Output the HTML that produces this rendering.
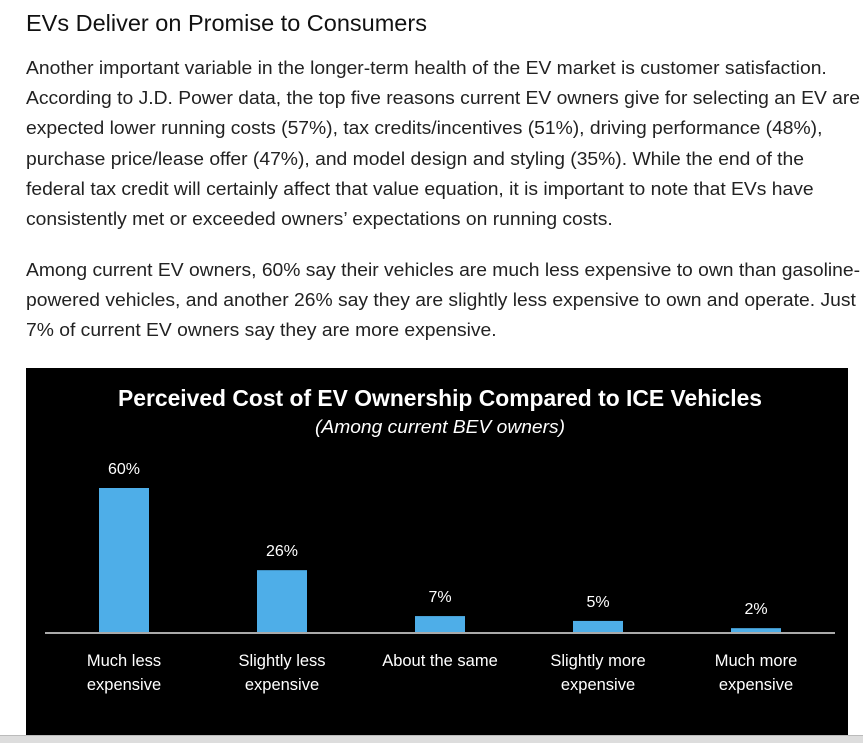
<!DOCTYPE html>
<html><head><meta charset="utf-8"><style>
body{margin:0;width:863px;height:742px;background:#fff;overflow:hidden;font-family:"Liberation Sans",sans-serif;color:#222;position:relative}
h2{position:absolute;left:26px;top:10px;margin:0;font-weight:normal;font-size:23.5px;color:#111;white-space:nowrap}
p{position:absolute;left:26px;margin:0;font-size:18.3px;line-height:30.2px;width:800px;transform:scaleX(1.055);transform-origin:0 0}
p span{display:block;white-space:nowrap}
#chart{position:absolute;left:26px;top:368px;width:822px;height:367px;background:#000}
#bottom{position:absolute;left:0;top:735px;width:863px;height:7px;background:#ddd;border-top:1px solid #bbb}
</style></head><body>
<h2>EVs Deliver on Promise to Consumers</h2>
<p style="top:53px"><span>Another important variable in the longer-term health of the EV market is customer satisfaction.</span><span>According to J.D. Power data, the top five reasons current EV owners give for selecting an EV are</span><span>expected lower running costs (57%), tax credits/incentives (51%), driving performance (48%),</span><span>purchase price/lease offer (47%), and model design and styling (35%). While the end of the</span><span>federal tax credit will certainly affect that value equation, it is important to note that EVs have</span><span>consistently met or exceeded owners’ expectations on running costs.</span></p>
<p style="top:255px"><span>Among current EV owners, 60% say their vehicles are much less expensive to own than gasoline-</span><span>powered vehicles, and another 26% say they are slightly less expensive to own and operate. Just</span><span>7% of current EV owners say they are more expensive.</span></p>
<svg id="chart" width="822" height="367" viewBox="0 0 822 367">
<text x="414" y="38" fill="#fff" font-size="23" font-weight="bold" text-anchor="middle" font-family="Liberation Sans,sans-serif" textLength="644" lengthAdjust="spacingAndGlyphs">Perceived Cost of EV Ownership Compared to ICE Vehicles</text>
<text x="414" y="65" fill="#fff" font-size="18" font-style="italic" text-anchor="middle" font-family="Liberation Sans,sans-serif" textLength="250" lengthAdjust="spacingAndGlyphs">(Among current BEV owners)</text>
<g id="bars"></g>
<line x1="19" x2="809" y1="265" y2="265" stroke="#aaa" stroke-width="2"/>
</svg>
<div id="bottom"></div>
<script>
const categories1=["Much less","Slightly less","About the same","Slightly more","Much more"];
const categories2=["expensive","expensive","","expensive","expensive"];
const values=[60,26,7,5,2];
const valueLabels=["60%","26%","7%","5%","2%"];
const ns="http://www.w3.org/2000/svg";
const g=document.getElementById('bars');
const baseY=265,scale=145/60;
const xPos=i=>98+i*158;
const yPos=v=>baseY-v*scale;
function t(x,y,s,size){const e=document.createElementNS(ns,'text');e.setAttribute('x',x);e.setAttribute('y',y);e.setAttribute('fill','#fff');e.setAttribute('font-size',size);e.setAttribute('text-anchor','middle');e.setAttribute('font-family','Liberation Sans,sans-serif');e.textContent=s;g.appendChild(e);return e;}
values.forEach((v,i)=>{
 const r=document.createElementNS(ns,'rect');
 
 
 r.setAttribute('x',xPos(i)-25);r.setAttribute('y',yPos(v));r.setAttribute('width',50);r.setAttribute('height',baseY-yPos(v));r.setAttribute('fill','#4eaee8');
 g.appendChild(r);
 const l=t(xPos(i),yPos(v)-14,valueLabels[i],16);
 
 
 const c1=t(xPos(i),298,categories1[i],16.5);
 
 
 if(categories2[i]){const c2=t(xPos(i),322,categories2[i],16.5);
 
 }
});
</script>
</body></html>
